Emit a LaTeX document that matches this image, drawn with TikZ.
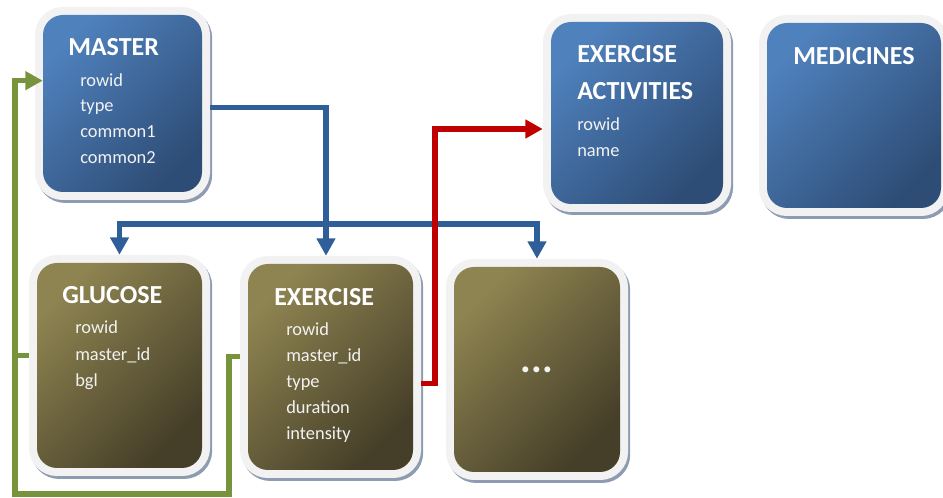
\documentclass[tikz,border=0pt]{standalone}
\usepackage{fontspec}
\setmainfont{Carlito}
\usetikzlibrary{arrows.meta,fit}

\definecolor{blueTL}{HTML}{4F81BD}
\definecolor{blueBR}{HTML}{2E4D76}
\definecolor{oliveTL}{HTML}{8E8451}
\definecolor{oliveBR}{HTML}{453E28}
\definecolor{framec}{HTML}{F2F2F2}
\definecolor{shadowc}{HTML}{8E9CB2}
\definecolor{linkblue}{HTML}{2F5F98}
\definecolor{linkgreen}{HTML}{77933C}
\definecolor{linkred}{HTML}{C00000}
\definecolor{textc}{HTML}{F2F2F2}

\begin{document}
\begin{tikzpicture}[
  x=0.75pt, y=-0.75pt,
  tablebox/.style={
    rounded corners=15pt, inner sep=0pt, draw=none,
    preaction={draw=shadowc, fill=shadowc, line width=12pt,
               transform canvas={shift={(1.6pt,-2.2pt)}}},
    preaction={draw=framec, fill=framec, line width=12pt},
    shading angle=45},
  bluetable/.style={tablebox, top color=blueTL, bottom color=blueBR, shading angle=45},
  olivetable/.style={tablebox, top color=oliveTL, bottom color=oliveBR, shading angle=45},
  title/.style={anchor=base west, inner sep=0pt, text=white,
    font=\fontsize{19.5pt}{22pt}\selectfont\bfseries},
  field/.style={anchor=base west, inner sep=0pt, text=textc,
    font=\fontsize{13.8pt}{16pt}\selectfont},
  link/.style={line width=3.8pt},
  tip/.tip={Triangle[width=13.5pt,length=13pt]},
]
\useasboundingbox (0,0) rectangle (943,498);
\clip (0,0) rectangle (943,498);

% tables
\node[bluetable,  fit={(43,15)(202,192)}]   (master)   {};
\node[bluetable,  fit={(551,22)(723,204)}]  (exact)    {};
\node[bluetable,  fit={(767,23)(941,208)}]  (medicine) {};
\node[olivetable, fit={(37,263)(202,468)}]  (glucose)  {};
\node[olivetable, fit={(248,264)(413,470)}] (exercise) {};
\node[olivetable, fit={(454,267)(620,472)}] (more)     {};

% MASTER
\node[title] (mT)  at (68,56)  {MASTER};
\node[field] (m1)  at (80,87)  {rowid};
\node[field] (m2)  at (80,112) {type};
\node[field] (m3)  at (80,138) {common1};
\node[field] (m4)  at (80,164) {common2};

% EXERCISE ACTIVITIES
\node[title] (aT1) at (577,63)  {EXERCISE};
\node[title] (aT2) at (577,100) {ACTIVITIES};
\node[field] (a1)  at (577,131) {rowid};
\node[field] (a2)  at (577,157) {name};

% MEDICINES
\node[title] (dT)  at (793,65) {MEDICINES};

% GLUCOSE
\node[title] (gT)  at (62,304) {GLUCOSE};
\node[field] (g1)  at (75,334) {rowid};
\node[field] (g2)  at (75,361) {master\_id};
\node[field] (g3)  at (75,387) {bgl};

% EXERCISE
\node[title] (eT)  at (274,306) {EXERCISE};
\node[field] (e1)  at (286,336) {rowid};
\node[field] (e2)  at (286,362) {master\_id};
\node[field] (e3)  at (286,388) {type};
\node[field] (e4)  at (286,414) {duration};
\node[field] (e5)  at (286,440) {intensity};

% further tables
\node[inner sep=0pt, text=textc, font=\fontsize{30pt}{30pt}\selectfont\bfseries]
  (dots) at (537,370) {...};

% routing points
\coordinate (exTop)   at ([yshift=6pt]exercise.north);
\coordinate (busj)    at (326,224);
\coordinate (redbend) at (435,129);
\coordinate (gbottom) at (229,494);
\coordinate (gleft)   at (15,494);

% MASTER.type -> child tables
\draw[link, linkblue, -tip] ([xshift=6pt]master.east |- m2) -| (busj) -- (busj |- exTop);
\draw[link, linkblue, tip-tip] ([yshift=6pt]glucose.north) |- (busj) -| ([yshift=6pt]more.north);

% EXERCISE.type -> EXERCISE ACTIVITIES
\draw[link, linkred, -tip] ([xshift=6pt]exercise.east |- e3) -| (redbend)
  -- ([xshift=-6pt]exact.west |- redbend);

% master_id -> MASTER.rowid
\draw[link, linkgreen] ([xshift=-6pt]glucose.west |- g2) -- (gleft |- g2);
\draw[link, linkgreen, -tip] ([xshift=-6pt]exercise.west |- e2) -| (gbottom)
  -- (gleft) |- (master.west |- m1);
\end{tikzpicture}
\end{document}
